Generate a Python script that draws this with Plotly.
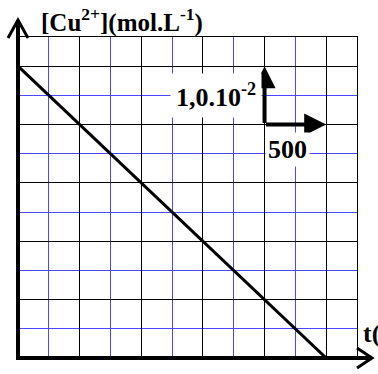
import plotly.graph_objects as go

# Données : [Cu2+] décroît linéairement jusqu'à 0
t_s = [0, 2500]
cu_mol_l = [0.05, 0.0]

# Échelle indiquée sur le graphe
scale_t0 = 2000
scale_c0 = 0.04
scale_dt = 500
scale_dc = 0.01

x_max = 2750
y_max = 0.055

serif = "Liberation Serif"
blue = "#4848ff"

fig = go.Figure()

fig.add_trace(
    go.Scatter(
        x=t_s,
        y=cu_mol_l,
        mode="lines",
        line=dict(color="black", width=3),
        showlegend=False,
        hoverinfo="skip",
    )
)

axis_common = dict(
    showticklabels=False,
    ticks="",
    zeroline=False,
    showline=True,
    mirror=True,
    linecolor="black",
    linewidth=1,
    showgrid=True,
    gridcolor="black",
    gridwidth=1.2,
)

fig.update_xaxes(
    range=[0, x_max],
    tick0=0,
    dtick=500,
    minor=dict(tick0=0, dtick=250, showgrid=True, gridcolor=blue, gridwidth=1.2),
    **axis_common,
)
fig.update_yaxes(
    range=[0, y_max],
    tick0=0,
    dtick=0.01,
    minor=dict(tick0=0, dtick=0.005, showgrid=True, gridcolor=blue, gridwidth=1.2),
    **axis_common,
)

# Axes épais avec flèches (chevrons ouverts), en repère "paper" pour ne pas être coupés
px = dict(xref="paper", yref="paper", xsizemode="pixel", ysizemode="pixel")
shapes = [
    dict(type="line", xanchor=0, yanchor=0, x0=0, x1=0, y0=-2, y1=338,
         line=dict(color="black", width=4), **px),
    dict(type="line", xanchor=0, yanchor=0, x0=-2, x1=354, y0=0, y1=0,
         line=dict(color="black", width=4), **px),
    dict(type="path", xanchor=0, yanchor=1, path="M -10,-1 L 0,17 L 10,-1",
         line=dict(color="black", width=3), **px),
    dict(type="path", xanchor=1, yanchor=0, path="M 0,10 L 15,0 L 0,-10",
         line=dict(color="black", width=3), **px),
]

font = dict(family=serif, size=26, color="black")

annotations = [
    dict(text="<b>[Cu<sup>2+</sup>](mol.L<sup>-1</sup>)</b>", xref="paper", yref="paper",
         x=0.062, y=1.05, xanchor="left", yanchor="middle", showarrow=False,
         font=dict(family=serif, size=25, color="black")),
    dict(text="<b>t(</b>", xref="paper", yref="paper",
         x=1.013, y=0.075, xanchor="left", yanchor="middle", showarrow=False, font=font),
    # flèches d'échelle
    dict(x=scale_t0, y=scale_c0 + scale_dc, ax=scale_t0, ay=scale_c0,
         xref="x", yref="y", axref="x", ayref="y", text="", showarrow=True,
         arrowhead=2, arrowsize=1.1, arrowwidth=4, arrowcolor="black", standoff=0),
    dict(x=scale_t0 + scale_dt, y=scale_c0, ax=scale_t0, ay=scale_c0,
         xref="x", yref="y", axref="x", ayref="y", text="", showarrow=True,
         arrowhead=2, arrowsize=1.1, arrowwidth=4, arrowcolor="black", standoff=0),
    dict(text="<b>1,0.10<sup>-2</sup></b>", x=scale_t0, y=scale_c0 + scale_dc / 2,
         xref="x", yref="y", xanchor="right", yanchor="middle", xshift=-3,
         showarrow=False, font=font, bgcolor="white", borderpad=5),
    dict(text="<b>%d</b>" % scale_dt, x=scale_t0 + scale_dt * 0.38, y=scale_c0 - 0.0042,
         xref="x", yref="y", xanchor="center", yanchor="middle",
         showarrow=False, font=font, bgcolor="white", borderpad=2),
]

fig.update_layout(
    width=378,
    height=374,
    margin=dict(l=18, r=21, t=37, b=16),
    plot_bgcolor="white",
    paper_bgcolor="white",
    shapes=shapes,
    annotations=annotations,
    showlegend=False,
)

fig.write_html(
    "out.html",
    config={"displayModeBar": False},
    post_script="document.body.style.margin='0';",
)
